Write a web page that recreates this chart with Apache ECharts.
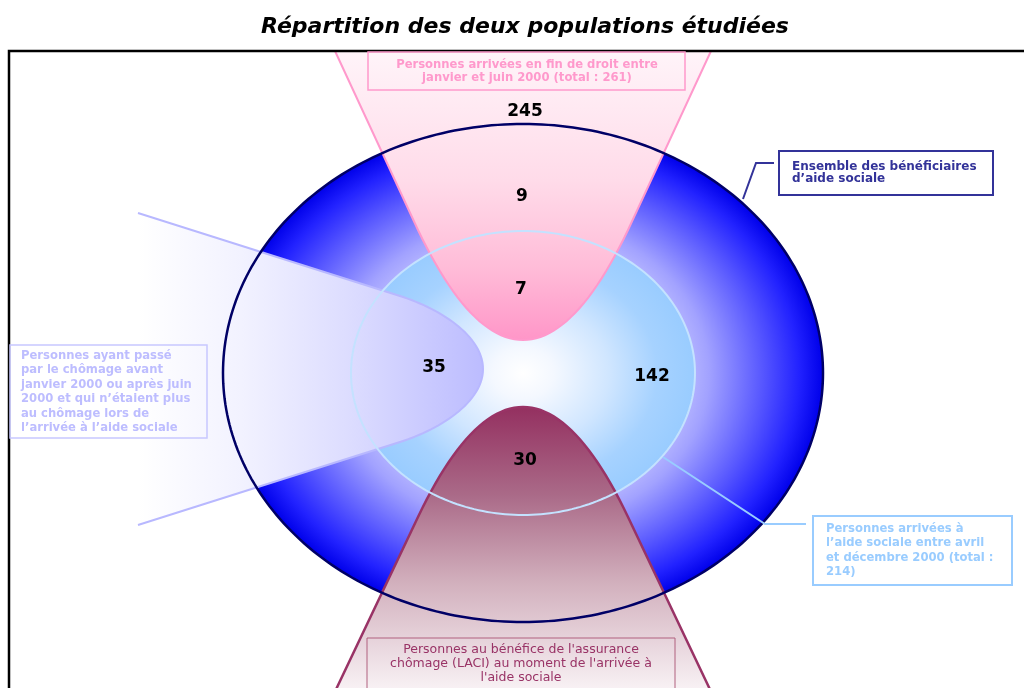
<!DOCTYPE html>
<html><head><meta charset="utf-8">
<script src="https://cdn.jsdelivr.net/npm/echarts@6/dist/echarts.min.js"></script>
<style>html,body{margin:0;padding:0;background:#fff}#c{width:1024px;height:688px}</style>
</head><body><div id="c"></div>
<script>
// ---------- content ----------
const titleText = 'Répartition des deux populations étudiées';
const regionNames = ['Fin de droit, hors aide sociale', 'Fin de droit, aide sociale hors période', 'Fin de droit et arrivée avril–décembre 2000', 'Chômage hors période', 'Arrivée avril–décembre 2000 seulement', 'LACI à l’arrivée'];
const regionValues = [245, 9, 7, 35, 142, 30];
const pinkBoxLines = ['Personnes arrivées en fin de droit entre', 'janvier et juin 2000 (total : 261)'];
const navyBoxLines = ['Ensemble des bénéficiaires', 'd’aide sociale'];
const lavenderBoxLines = ['Personnes ayant passé', 'par le chômage avant', 'janvier 2000 ou après juin', '2000 et qui n’étaient plus', 'au chômage lors de', 'l’arrivée à l’aide sociale'];
const blueBoxLines = ['Personnes arrivées à', 'l’aide sociale entre avril', 'et décembre 2000 (total :', '214)'];
const maroonBoxLines = ["Personnes au bénéfice de l'assurance", "chômage (LACI) au moment de l'arrivée à", "l'aide sociale"];

// ---------- layout (data units of a hidden 1024 x 688 plane) ----------
const valuePos = [[525,112],[522,197],[521,290],[434,368],[652,377],[525,461]];
const outerE = {cx:523, cy:373, rx:300, ry:249};
const innerE = {cx:523, cy:373, rx:172, ry:142};
const pinkF = {ax:523, vy:340, ty:230, tw:105, ey:51, ew:188};
const maroonF = {ax:523, vy:407, ty:517, tw:105, ey:700, ew:192};
const lavF = {ay:369, p0:[138,213], p1:[400,296], c1:[438,308], c2:[483,335], v:[483,369]};
const frame = {x:9, y:51, x2:1030, y2:700};
const boxes = [
  {lines:pinkBoxLines, x1:368, y1:52, x2:685, y2:90, tx:527, ty:65, lh:13, align:'center', color:'#ff99cc', stroke:'#ff99cc', lw:1.5, fs:11.6, fw:'bold'},
  {lines:navyBoxLines, x1:779, y1:151, x2:993, y2:195, tx:792, ty:167, lh:12, align:'left', color:'#333399', stroke:'#333399', lw:2, fs:12, fw:'bold'},
  {lines:lavenderBoxLines, x1:10, y1:345, x2:207, y2:438, tx:21, ty:356, lh:14.4, align:'left', color:'#bdbdff', stroke:'#c8c8ff', lw:1.5, fs:11.6, fw:'bold'},
  {lines:blueBoxLines, x1:813, y1:516, x2:1012, y2:585, tx:826, ty:529, lh:14.4, align:'left', color:'#99ccff', stroke:'#99ccff', lw:2, fs:11.6, fw:'bold'},
  {lines:maroonBoxLines, x1:367, y1:638, x2:675, y2:702, tx:521, ty:650, lh:14, align:'center', color:'#993366', stroke:'#b0607f', lw:1, fs:12.5, fw:'normal'}
];
const leaders = [
  {pts:[[743,199],[756,163],[774,163]], color:'#333399', lw:2},
  {pts:[[663,457],[765,524],[806,524]], color:'#99ccff', lw:2}
];

function quad(p0, c, p1, n) {
  const out = [];
  for (let i = 1; i <= n; i++) { const t = i / n, u = 1 - t;
    out.push([u*u*p0[0] + 2*u*t*c[0] + t*t*p1[0], u*u*p0[1] + 2*u*t*c[1] + t*t*p1[1]]); }
  return out;
}
function cubic(p0, c1, c2, p1, n) {
  const out = [];
  for (let i = 1; i <= n; i++) { const t = i / n, u = 1 - t;
    out.push([u*u*u*p0[0] + 3*u*u*t*c1[0] + 3*u*t*t*c2[0] + t*t*t*p1[0],
              u*u*u*p0[1] + 3*u*u*t*c1[1] + 3*u*t*t*c2[1] + t*t*t*p1[1]]); }
  return out;
}
function vFunnel(f) {
  const L = [f.ax - f.ew, f.ey], TL = [f.ax - f.tw, f.ty], V = [f.ax, f.vy];
  const TR = [f.ax + f.tw, f.ty], R = [f.ax + f.ew, f.ey];
  return [L, TL].concat(quad(TL, [f.ax - f.tw/2, f.vy], V, 24), quad(V, [f.ax + f.tw/2, f.vy], TR, 24), [R]);
}
function hFunnel(f) {
  const up = [f.p0, f.p1].concat(cubic(f.p1, f.c1, f.c2, f.v, 30));
  const down = up.slice(0, -1).reverse().map(p => [p[0], 2*f.ay - p[1]]);
  return up.concat(down);
}
function ellipsePts(e, n) {
  const out = [];
  for (let i = 0; i < n; i++) { const a = 2*Math.PI*i/n; out.push([e.cx + e.rx*Math.cos(a), e.cy + e.ry*Math.sin(a)]); }
  return out;
}

const G = echarts.graphic;
function renderShapes(params, api) {
  if (params.dataIndex !== 0) return null;
  const P = p => api.coord(p);
  const map = arr => arr.map(P);
  function ellFill(e, stops) {
    const c = P([e.cx, e.cy]);
    const r = P([e.cx + e.rx, e.cy])[0] - c[0];
    const ryp = P([e.cx, e.cy + e.ry])[1] - c[1];
    return {type:'circle', shape:{cx:c[0], cy:c[1], r:r}, scaleY: ryp / r, originX:c[0], originY:c[1],
      style:{fill: new G.RadialGradient(0.5, 0.5, 0.5, stops)}};
  }
  const children = [];
  const pinkPts = map(vFunnel(pinkF)), lavPts = map(hFunnel(lavF)), marPts = map(vFunnel(maroonF));
  children.push(ellFill(outerE, [
    {offset:0, color:'#ffffff'}, {offset:0.5, color:'#c4c4ff'}, {offset:0.62, color:'#a2a2ff'},
    {offset:0.8, color:'#5656ff'}, {offset:0.92, color:'#2222ff'}, {offset:1, color:'#0000ea'}]));
  children.push(ellFill(innerE, [
    {offset:0, color:'#ffffff'}, {offset:0.18, color:'#f4f8ff'}, {offset:0.5, color:'#d0e6ff'},
    {offset:0.78, color:'#a6d2ff'}, {offset:1, color:'#99ccff'}]));
  children.push({type:'polygon', shape:{points: pinkPts}, style:{
    fill: new G.LinearGradient(0, 0, 0, 1, [{offset:0, color:'#fff4f9'}, {offset:0.45, color:'#ffdbe9'}, {offset:0.75, color:'#ffbcd8'}, {offset:1, color:'#ff96c8'}])}});
  children.push({type:'polyline', shape:{points: pinkPts}, style:{fill:'none', stroke:'#ff99cc', lineWidth:2}});
  children.push({type:'polygon', shape:{points: lavPts}, style:{
    fill: new G.LinearGradient(0, 0, 1, 0, [{offset:0, color:'#ffffff'}, {offset:0.3, color:'#f2f2ff'}, {offset:0.62, color:'#dcdcff'}, {offset:1, color:'#bcbcff'}])}});
  children.push({type:'polyline', shape:{points: lavPts}, style:{fill:'none', stroke:'#b8b8ff', lineWidth:2}});
  children.push({type:'polygon', shape:{points: marPts}, style:{
    fill: new G.LinearGradient(0, 0, 0, 1, [{offset:0, color:'#943060'}, {offset:0.3, color:'#aa6a88'}, {offset:0.6, color:'#d2b0bd'}, {offset:1, color:'#fcf8fa'}])}});
  children.push({type:'polyline', shape:{points: marPts}, style:{fill:'none', stroke:'#993366', lineWidth:2.5}});
  children.push({type:'polygon', shape:{points: map(ellipsePts(innerE, 240))}, style:{fill:'none', stroke:'#c4e2ff', lineWidth:2}});
  children.push({type:'polygon', shape:{points: map(ellipsePts(outerE, 300))}, style:{fill:'none', stroke:'#000066', lineWidth:2.5}});
  const f1 = P([frame.x, frame.y]), f2 = P([frame.x2, frame.y2]);
  children.push({type:'rect', shape:{x:f1[0], y:f1[1], width:f2[0]-f1[0], height:f2[1]-f1[1]}, style:{fill:'none', stroke:'#000', lineWidth:2.5}});
  leaders.forEach(l => children.push({type:'polyline', shape:{points: map(l.pts)}, style:{fill:'none', stroke:l.color, lineWidth:l.lw}}));
  boxes.forEach(b => {
    const a = P([b.x1, b.y1]), c = P([b.x2, b.y2]);
    children.push({type:'rect', shape:{x:a[0], y:a[1], width:c[0]-a[0], height:c[1]-a[1]}, style:{fill:'none', stroke:b.stroke, lineWidth:b.lw}});
    b.lines.forEach((t, i) => {
      const p = P([b.tx, b.ty + i*b.lh]);
      children.push({type:'text', x:p[0], y:p[1], style:{text:t, fill:b.color, fontSize:b.fs, fontWeight:b.fw,
        fontFamily:'DejaVu Sans', align:b.align, verticalAlign:'middle'}});
    });
  });
  return {type:'group', children};
}
function renderValue(params, api) {
  const p = api.coord([api.value(0), api.value(1)]);
  return {type:'text', x:p[0], y:p[1], style:{text:String(api.value(2)), fill:'#000000', fontSize:17, fontWeight:'bold',
    fontFamily:'DejaVu Sans', align:'center', verticalAlign:'middle'}};
}

const chart = echarts.init(document.getElementById('c'), null, {renderer:'canvas'});
chart.setOption({
  animation:false,
  backgroundColor:'#ffffff',
  title:{text:titleText, left:525, top:16, textAlign:'center', padding:0,
    textStyle:{fontSize:22, fontWeight:'bold', fontStyle:'italic', fontFamily:'DejaVu Sans, sans-serif', color:'#000'}},
  grid:{left:0, right:0, top:0, bottom:0},
  xAxis:{type:'value', min:0, max:1024, show:false},
  yAxis:{type:'value', min:0, max:688, inverse:true, show:false},
  series:[
    {type:'custom', renderItem:renderShapes, data:[[0,0]], silent:true, clip:false, z:1},
    {type:'custom', renderItem:renderValue, silent:true, clip:false, z:5,
      data: regionValues.map((v, i) => ({name:regionNames[i], value:[valuePos[i][0], valuePos[i][1], v]}))}
  ]
});
</script></body></html>
